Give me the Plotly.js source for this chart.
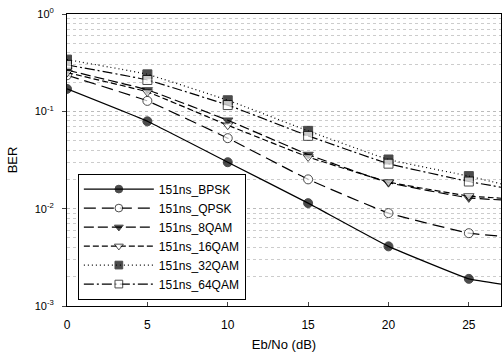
<!DOCTYPE html>
<html><head><meta charset="utf-8">
<script src="https://cdn.plot.ly/plotly-3.0.1.min.js"></script>
<style>html,body{margin:0;padding:0;background:#fff}#c{width:502px;height:357px}</style>
</head><body><div id="c"></div>
<script>
const ebno = [0, 5, 10, 15, 20, 25, 27];
const names = ['151ns_BPSK','151ns_QPSK','151ns_8QAM','151ns_16QAM','151ns_32QAM','151ns_64QAM'];
const berBPSK  = [0.17, 0.079, 0.030, 0.0114, 0.0041, 0.0019, 0.00168];
const berQPSK  = [0.235, 0.128, 0.053, 0.020, 0.0090, 0.0056, 0.0052];
const ber8QAM  = [0.265, 0.166, 0.081, 0.036, 0.0185, 0.0129, 0.0123];
const ber16QAM = [0.25, 0.158, 0.072, 0.034, 0.0188, 0.0135, 0.0128];
const ber32QAM = [0.34, 0.24, 0.13, 0.063, 0.032, 0.0216, 0.018];
const ber64QAM = [0.30, 0.21, 0.116, 0.056, 0.029, 0.019, 0.0166];
const yTickVals = [0.001, 0.01, 0.1, 1];
const yTickText = ['10<sup>-3</sup>','10<sup>-2</sup>','10<sup>-1</sup>','10<sup>0</sup>'];

const series = [berBPSK, berQPSK, ber8QAM, ber16QAM, ber32QAM, ber64QAM];
const symbols = ['circle','circle','triangle-down','triangle-down','square','square'];
const fills = ['#000','#fff','#000','#fff','#000','#fff'];
const dashes = ['solid','12px,6px','10px,4px','6px,3px','1px,3px','10px,3px,2px,3px'];
const msize = ebno.map((x,i)=> i < 6 ? 9 : 0);

const minorVals = [];
for (let e = -3; e < 0; e++) for (let m = 2; m <= 9; m++) minorVals.push(m * Math.pow(10, e));

const traces = series.map((s, i) => ({
  x: ebno, y: s, name: names[i], type: 'scatter', mode: 'lines+markers',
  line: {color: '#000', width: 1.2, dash: dashes[i], shape: 'spline', smoothing: 0.3},
  marker: {symbol: symbols[i], size: msize, color: fills[i], line: {color: '#000', width: 1}}
}));

const layout = {
  width: 502, height: 357,
  margin: {l: 67, r: 1, t: 14, b: 51},
  paper_bgcolor: '#fff', plot_bgcolor: '#fff',
  font: {family: 'Liberation Sans, Arial, sans-serif', size: 12, color: '#000'},
  showlegend: true,
  legend: {x: 0.025, y: 0.022, xanchor: 'left', yanchor: 'bottom', bgcolor: '#fff',
           bordercolor: '#000', borderwidth: 1, font: {size: 12}, tracegroupgap: 0, itemwidth: 70},
  xaxis: {range: [0, 27], tickvals: [0,5,10,15,20,25], ticks: 'inside', ticklen: 4,
          ticklabelstandoff: 8,
          showline: true, linecolor: '#000', linewidth: 1, mirror: true,
          showgrid: false, zeroline: false,
          title: {text: 'Eb/No (dB)', font: {size: 13}, standoff: 8}},
  yaxis: {type: 'log', range: [-3, 0], tickvals: yTickVals, ticktext: yTickText,
          ticks: 'outside', ticklen: 4, ticklabelstandoff: 6, tickfont: {size: 11},
          showline: true, linecolor: '#000', linewidth: 1, mirror: true,
          showgrid: true, gridcolor: '#bbb', griddash: 'dot', gridwidth: 1,
          minor: {tickvals: minorVals, showgrid: true, gridcolor: '#ccc', griddash: 'dot', gridwidth: 1, ticks: ''},
          title: {text: 'BER', font: {size: 13}, standoff: 14}}
};
Plotly.newPlot('c', traces, layout, {staticPlot: true});
</script></body></html>
